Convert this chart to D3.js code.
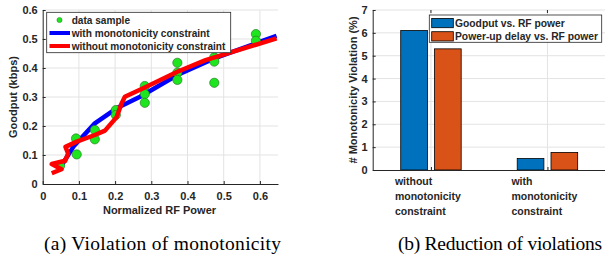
<!DOCTYPE html>
<html>
<head>
<meta charset="utf-8">
<script src="https://cdn.jsdelivr.net/npm/d3@7"></script>
<style>
  body { margin: 0; background: #fff; }
  svg { display: block; }
  text { font-family: "Liberation Sans", Arial, sans-serif; font-weight: bold; fill: #262626; }
  .caption { font-family: "Liberation Serif", "Times New Roman", serif; font-weight: normal; fill: #000; }
</style>
</head>
<body>
<div id="chart"></div>
<script>
// ---- data: (a) goodput vs normalized RF power
const sampleX = [0.048, 0.092, 0.094, 0.144, 0.144, 0.202, 0.202, 0.282, 0.282, 0.282, 0.372, 0.372, 0.372, 0.474, 0.474, 0.474, 0.589, 0.589];
const sampleY = [0.063, 0.157, 0.102, 0.186, 0.154, 0.255, 0.238, 0.338, 0.310, 0.280, 0.418, 0.384, 0.359, 0.437, 0.422, 0.349, 0.517, 0.494];

const withX = [0.045, 0.085, 0.144, 0.204, 0.269, 0.372, 0.474, 0.646];
const withY = [0.050, 0.129, 0.209, 0.261, 0.301, 0.376, 0.433, 0.511];

const withoutX = [0.025, 0.052, 0.025, 0.062, 0.070, 0.063, 0.094, 0.144, 0.172, 0.204, 0.218, 0.227, 0.282, 0.372, 0.450, 0.646];
const withoutY = [0.037, 0.051, 0.069, 0.080, 0.105, 0.128, 0.146, 0.169, 0.184, 0.230, 0.278, 0.301, 0.333, 0.387, 0.427, 0.502];

const xTicksA = [0, 0.1, 0.2, 0.3, 0.4, 0.5, 0.6];
const yTicksA = [0, 0.1, 0.2, 0.3, 0.4, 0.5, 0.6];

// ---- data: (b) monotonicity violations
const categories = ["without\nmonotonicity\nconstraint", "with\nmonotonicity\nconstraint"];
const goodputViol = [6.1, 0.5];
const powerupViol = [5.3, 0.77];
const yTicksB = [0, 1, 2, 3, 4, 5, 6, 7];

const W = 605, H = 259;
const gridCol = "#e3e3e3", axisCol = "#262626";

const svg = d3.select("#chart").append("svg")
    .attr("width", W).attr("height", H)
    .attr("viewBox", `0 0 ${W} ${H}`);

// ================= (a) =================
const xA = d3.scaleLinear().domain([0, 0.65]).range([42.7, 278]);
const yA = d3.scaleLinear().domain([0, 0.6]).range([184, 10]);

const gA = svg.append("g");

gA.append("g").selectAll("line.vx")
    .data(xTicksA.slice(1)).join("line")
    .attr("x1", d => xA(d)).attr("x2", d => xA(d))
    .attr("y1", yA(0)).attr("y2", yA(0.6))
    .attr("stroke", gridCol);
gA.append("g").selectAll("line.hy")
    .data(yTicksA.slice(1)).join("line")
    .attr("x1", xA(0)).attr("x2", xA(0.65))
    .attr("y1", d => yA(d)).attr("y2", d => yA(d))
    .attr("stroke", gridCol);

const axA_x = gA.append("g")
    .attr("transform", `translate(0,${yA(0)})`)
    .call(d3.axisBottom(xA).tickValues(xTicksA).tickFormat(d3.format("")).tickSizeInner(-3).tickSizeOuter(0).tickPadding(8));
const axA_y = gA.append("g")
    .attr("transform", `translate(${xA(0)},0)`)
    .call(d3.axisLeft(yA).tickValues(yTicksA).tickFormat(d3.format("")).tickSizeInner(-3).tickSizeOuter(0).tickPadding(5));

[axA_x, axA_y].forEach(a => {
    a.select(".domain").attr("stroke", axisCol);
    a.selectAll(".tick line").attr("stroke", axisCol);
    a.selectAll("text").attr("font-size", 11).attr("font-family", "Liberation Sans").attr("font-weight", "bold").attr("fill", axisCol);
});

const lineA = d3.line().x(d => xA(d[0])).y(d => yA(d[1]));

gA.append("path")
    .datum(d3.zip(withX, withY))
    .attr("d", lineA)
    .attr("fill", "none").attr("stroke", "#0000ff")
    .attr("stroke-width", 4.5).attr("stroke-linejoin", "round");

gA.append("g").selectAll("circle")
    .data(d3.zip(sampleX, sampleY)).join("circle")
    .attr("cx", d => xA(d[0])).attr("cy", d => yA(d[1]))
    .attr("r", 4.6)
    .attr("fill", "#1ee61e").attr("stroke", "#2a7a2a").attr("stroke-width", 0.7);

gA.append("path")
    .datum(d3.zip(withoutX, withoutY))
    .attr("d", lineA)
    .attr("fill", "none").attr("stroke", "#ff0000")
    .attr("stroke-width", 4.5).attr("stroke-linejoin", "round");

// legend (a)
const legA = gA.append("g");
legA.append("rect")
    .attr("x", 46.7).attr("y", 12.3).attr("width", 184).attr("height", 40.4)
    .attr("fill", "#fff").attr("stroke", axisCol).attr("stroke-width", 0.8);
legA.append("circle").attr("cx", 59.5).attr("cy", 20).attr("r", 2.6)
    .attr("fill", "#1ee61e").attr("stroke", "#2a7a2a").attr("stroke-width", 0.5);
legA.append("line").attr("x1", 49.5).attr("x2", 70).attr("y1", 33).attr("y2", 33)
    .attr("stroke", "#0000ff").attr("stroke-width", 4);
legA.append("line").attr("x1", 49.5).attr("x2", 70).attr("y1", 46).attr("y2", 46)
    .attr("stroke", "#ff0000").attr("stroke-width", 4);
["data sample", "with monotonicity constraint", "without monotonicity constraint"].forEach((t, i) => {
    legA.append("text").attr("x", 71.7).attr("y", [20, 33, 46][i]).attr("dy", "0.35em")
        .attr("font-size", 10.1).text(t);
});

gA.append("text")
    .attr("x", 159.5).attr("y", 214)
    .attr("text-anchor", "middle").attr("font-size", 11)
    .text("Normalized RF Power");
gA.append("text")
    .attr("transform", `translate(17,${yA(0.3)}) rotate(-90)`)
    .attr("text-anchor", "middle").attr("font-size", 11)
    .text("Goodput (kbps)");

svg.append("text").attr("class", "caption")
    .attr("x", 162.5).attr("y", 250).attr("text-anchor", "middle")
    .attr("font-size", 19.5)
    .attr("textLength", 237).attr("lengthAdjust", "spacing")
    .text("(a) Violation of monotonicity");

// ================= (b) =================
const xB = d3.scaleLinear().domain([0.5, 2.5]).range([372.7, 605.7]);
const yB = d3.scaleLinear().domain([0, 7]).range([170, 10]);
const barOff = 0.145, barW = 0.229;

const gB = svg.append("g");

gB.append("g").selectAll("line")
    .data(yTicksB.slice(1)).join("line")
    .attr("x1", xB(0.5)).attr("x2", xB(2.5))
    .attr("y1", d => yB(d)).attr("y2", d => yB(d))
    .attr("stroke", gridCol);
gB.append("g").selectAll("line")
    .data([1, 2]).join("line")
    .attr("x1", d => xB(d)).attr("x2", d => xB(d))
    .attr("y1", yB(0)).attr("y2", yB(7))
    .attr("stroke", gridCol);

const bars = [
    { vals: goodputViol, off: -barOff, col: "#0072BD" },
    { vals: powerupViol, off: barOff, col: "#D95319" }
];
bars.forEach(s => {
    gB.append("g").selectAll("rect")
        .data(s.vals).join("rect")
        .attr("x", (d, i) => xB(i + 1 + s.off - barW / 2))
        .attr("width", xB(barW) - xB(0))
        .attr("y", d => yB(d))
        .attr("height", d => yB(0) - yB(d))
        .attr("fill", s.col).attr("stroke", "#000").attr("stroke-width", 0.8);
});

const axB_y = gB.append("g")
    .attr("transform", `translate(${xB(0.5)},0)`)
    .call(d3.axisLeft(yB).tickValues(yTicksB).tickFormat(d3.format("d")).tickSizeInner(-3).tickSizeOuter(0).tickPadding(5));
const axB_x = gB.append("g")
    .attr("transform", `translate(0,${yB(0)})`)
    .call(d3.axisBottom(xB).tickValues([1, 2]).tickFormat("").tickSizeInner(-3).tickSizeOuter(0));
[axB_x, axB_y].forEach(a => {
    a.select(".domain").attr("stroke", axisCol);
    a.selectAll(".tick line").attr("stroke", axisCol);
    a.selectAll("text").attr("font-size", 11).attr("font-family", "Liberation Sans").attr("font-weight", "bold").attr("fill", axisCol);
});
// small ticks on top edge
gB.append("g").selectAll("line")
    .data([1, 2]).join("line")
    .attr("x1", d => xB(d)).attr("x2", d => xB(d))
    .attr("y1", yB(7)).attr("y2", yB(7) + 3)
    .attr("stroke", axisCol);

categories.forEach((c, i) => {
    const t = gB.append("text")
        .attr("x", xB(i + 1) - 36).attr("y", 185)
        .attr("font-size", 10.5);
    c.split("\n").forEach((ln, j) => {
        t.append("tspan").attr("x", xB(i + 1) - 36).attr("dy", j ? 15 : 0).text(ln);
    });
});

gB.append("text")
    .attr("transform", `translate(357,${yB(3.5)}) rotate(-90)`)
    .attr("text-anchor", "middle").attr("font-size", 11)
    .text("# Monotonicity Violation (%)");

// legend (b)
const legB = gB.append("g");
legB.append("rect")
    .attr("x", 429.3).attr("y", 15).attr("width", 172.4).attr("height", 27.3)
    .attr("fill", "#fff").attr("stroke", axisCol).attr("stroke-width", 0.8);
["Goodput vs. RF power", "Power-up delay vs. RF power"].forEach((t, i) => {
    const yy = [23, 36.3][i];
    legB.append("rect")
        .attr("x", 431.7).attr("y", yy - 4.6).attr("width", 21.6).attr("height", 9.3)
        .attr("fill", bars[i].col).attr("stroke", "#000").attr("stroke-width", 0.8);
    legB.append("text").attr("x", 455).attr("y", yy).attr("dy", "0.35em")
        .attr("font-size", 10.3).text(t);
});

svg.append("text").attr("class", "caption")
    .attr("x", 500).attr("y", 250).attr("text-anchor", "middle")
    .attr("font-size", 19.5)
    .attr("textLength", 204).attr("lengthAdjust", "spacing")
    .text("(b) Reduction of violations");
</script>
</body>
</html>
